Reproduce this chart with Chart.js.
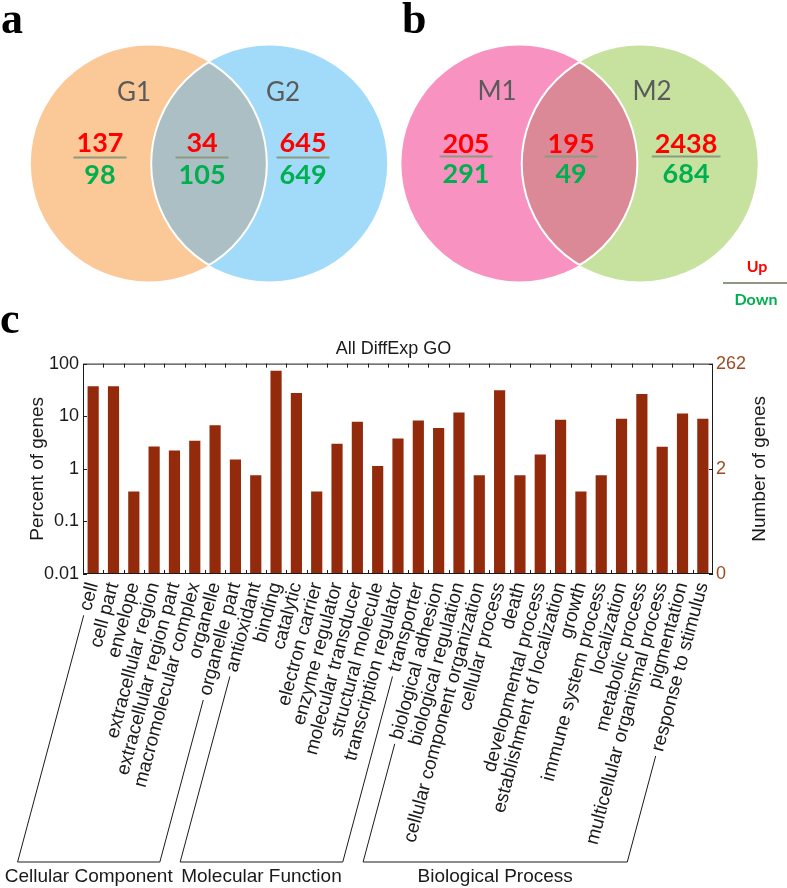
<!DOCTYPE html>
<html>
<head>
<meta charset="utf-8">
<script src="https://cdn.jsdelivr.net/npm/chart.js@4.4.1/dist/chart.umd.min.js"></script>
<style>
  body { margin: 0; background: #fff; width: 787px; height: 888px; position: relative; overflow: hidden; }
  .box { position: absolute; }
</style>
</head>
<body>
<div class="box" style="left:0;top:300px;width:787px;height:588px"><canvas id="goBars"></canvas></div>
<div class="box" style="left:0;top:0;width:393px;height:312px"><canvas id="vennA"></canvas></div>
<div class="box" style="left:393px;top:0;width:394px;height:312px"><canvas id="vennB"></canvas></div>
<script>
// ---- datos ----
const goCategories = [
    'cell', 'cell part', 'envelope', 'extracellular region', 'extracellular region part',
    'macromolecular complex', 'organelle', 'organelle part',
    'antioxidant', 'binding', 'catalytic', 'electron carrier', 'enzyme regulator',
    'molecular transducer', 'structural molecule', 'transcription regulator', 'transporter',
    'biological adhesion', 'biological regulation', 'cellular component organization',
    'cellular process', 'death', 'developmental process', 'establishment of localization',
    'growth', 'immune system process', 'localization', 'metabolic process',
    'multicellular organismal process', 'pigmentation', 'response to stimulus'
];
const goPercent = [
    36.9, 36.9, 0.37, 2.66, 2.23, 3.41, 6.7, 1.51,
    0.75, 72.9, 27.6, 0.37, 2.99, 7.85, 1.13, 3.78, 8.3,
    5.96, 11.8, 0.75, 31.0, 0.75, 1.87, 8.57, 0.37, 0.75, 8.96, 26.4, 2.62, 11.3, 8.96
];
const goGroups = ['Cellular Component', 'Molecular Function', 'Biological Process'];
const goGroupSizes = [8, 9, 14];
const leftTickValues = [0.01, 0.1, 1, 10, 100];
const leftTickLabels = ['0.01', '0.1', '1', '10', '100'];
const rightTickValues = [0.01, 1, 100];
const rightTickLabels = ['0', '2', '262'];

const vennASets = ['G1', 'G2'];
const vennAUp = [137, 34, 645];
const vennADown = [98, 105, 649];
const vennBSets = ['M1', 'M2'];
const vennBUp = [205, 195, 2438];
const vennBDown = [291, 49, 684];

// ---- estilos ----
const colores = {
    barra: '#932a0b',
    eje: '#1a1a1a',
    marron: '#9c4a25',
    rojo: '#ff0000',
    verde: '#00b050',
    raya: '#8d9a80',
    gris: '#5a5a5a'
};
const SANS = "'Liberation Sans', Arial, sans-serif";
const SERIF = "'Liberation Serif', 'Times New Roman', serif";
const CAL = "Lato, 'Open Sans', sans-serif";
Chart.defaults.font.family = SANS;
Chart.defaults.color = colores.eje;

// ---- diagramas de Venn ----
function vennPlugin(cfg) {
    return {
        id: 'venn',
        afterDatasetsDraw(chart) {
            const { ctx, scales: { x, y } } = chart;
            const pts = chart.getDatasetMeta(0).data;
            const r = x.getPixelForValue(1) - x.getPixelForValue(0);
            const a = pts[0], b = pts[1];
            const circ = (p) => { ctx.beginPath(); ctx.arc(p.x, p.y, r, 0, Math.PI * 2); };
            ctx.save();
            ctx.fillStyle = cfg.fills[0]; circ(a); ctx.fill();
            ctx.fillStyle = cfg.fills[1]; circ(b); ctx.fill();
            ctx.save(); circ(a); ctx.clip();
            ctx.fillStyle = cfg.fills[2]; circ(b); ctx.fill();
            ctx.restore();
            ctx.strokeStyle = '#ffffff'; ctx.lineWidth = 2;
            ctx.save(); circ(b); ctx.clip(); circ(a); ctx.stroke(); ctx.restore();
            ctx.save(); circ(a); ctx.clip(); circ(b); ctx.stroke(); ctx.restore();

            ctx.textAlign = 'center';
            ctx.textBaseline = 'middle';
            // nombres de conjuntos
            ctx.fillStyle = colores.gris;
            ctx.font = '26px ' + CAL;
            cfg.sets.forEach((s, i) => {
                ctx.fillText(s, x.getPixelForValue(cfg.setPos[i][0]), y.getPixelForValue(cfg.setPos[i][1]));
            });
            // numeros arriba / abajo
            cfg.up.forEach((u, i) => {
                const cx = x.getPixelForValue(cfg.cols[i]);
                ctx.font = 'bold 27px ' + CAL;
                const w = Math.max(ctx.measureText(String(u)).width, ctx.measureText(String(cfg.down[i])).width) + 6;
                ctx.fillStyle = colores.rojo;
                ctx.fillText(String(u), cx, y.getPixelForValue(cfg.rows[0]));
                ctx.fillStyle = colores.verde;
                ctx.fillText(String(cfg.down[i]), cx, y.getPixelForValue(cfg.rows[2]));
                ctx.strokeStyle = colores.raya; ctx.lineWidth = 2;
                const ly = y.getPixelForValue(cfg.rows[1]);
                ctx.beginPath(); ctx.moveTo(cx - w / 2, ly); ctx.lineTo(cx + w / 2, ly); ctx.stroke();
            });
            // letra del panel
            ctx.fillStyle = '#000';
            ctx.textAlign = 'left';
            ctx.textBaseline = 'alphabetic';
            ctx.font = 'bold 44px ' + SERIF;
            ctx.fillText(cfg.panel, cfg.panelX, 33);
            // leyenda Up / Down
            if (cfg.legend) {
                ctx.textAlign = 'center';
                ctx.textBaseline = 'middle';
                ctx.font = 'bold 16px ' + CAL;
                ctx.fillStyle = colores.rojo;
                ctx.fillText('Up', 364, 267);
                ctx.strokeStyle = colores.raya; ctx.lineWidth = 2;
                ctx.beginPath(); ctx.moveTo(330, 283); ctx.lineTo(394, 283); ctx.stroke();
                ctx.fillStyle = colores.verde;
                ctx.fillText('Down', 363, 300);
            }
            ctx.restore();
        }
    };
}

function makeVenn(id, xmin, xmax, cfg) {
    new Chart(document.getElementById(id), {
        type: 'scatter',
        data: { datasets: [{ data: [{ x: -0.51, y: 0 }, { x: 0.51, y: 0 }], pointRadius: 0 }] },
        options: {
            responsive: true,
            maintainAspectRatio: false,
            animation: false,
            events: [],
            layout: { padding: 0 },
            plugins: { legend: { display: false }, tooltip: { enabled: false } },
            scales: {
                x: { type: 'linear', min: xmin, max: xmax, display: false },
                y: { type: 'linear', min: -1.254, max: 1.381, display: false }
            }
        },
        plugins: [vennPlugin(cfg)]
    });
}

makeVenn('vennA', -1.771, 1.559, {
    fills: ['#fbc898', '#a2dbfa', '#acbfc4'],
    sets: vennASets, setPos: [[-0.636, 0.602], [0.627, 0.602]],
    up: vennAUp, down: vennADown,
    cols: [-0.924, -0.059, 0.797], rows: [0.169, 0.051, -0.102],
    panel: 'a', panelX: 1, legend: false
});
makeVenn('vennB', -1.581, 1.758, {
    fills: ['#f893c1', '#c7e19e', '#dc8997'],
    sets: vennBSets, setPos: [[-0.699, 0.61], [0.614, 0.61]],
    up: vennBUp, down: vennBDown,
    cols: [-0.962, -0.072, 0.903], rows: [0.161, 0.059, -0.093],
    panel: 'b', panelX: 9, legend: true
});

// ---- grafica de barras GO ----
const LABEL_FONT = 19;
const LABEL_PAD = 6;
const ANG = 75 * Math.PI / 180;

const marcoPlugin = {
    id: 'marco',
    afterDraw(chart) {
        const { ctx, chartArea: ca, scales: { x, y, y2 } } = chart;
        ctx.save();
        ctx.strokeStyle = colores.eje;
        ctx.lineWidth = 1;
        ctx.strokeRect(ca.left + 0.5, ca.top + 0.5, ca.right - ca.left - 1, ca.bottom - ca.top - 1);
        ctx.beginPath();
        const step = (ca.right - ca.left) / goCategories.length;
        for (let i = 1; i < goCategories.length; i++) {
            const px = Math.round(ca.left + i * step) + 0.5;
            ctx.moveTo(px, ca.top); ctx.lineTo(px, ca.top + 4);
            ctx.moveTo(px, ca.bottom); ctx.lineTo(px, ca.bottom - 4);
        }
        leftTickValues.forEach(v => {
            const py = Math.round(y.getPixelForValue(v)) + 0.5;
            ctx.moveTo(ca.left, py); ctx.lineTo(ca.left + 4, py);
        });
        rightTickValues.forEach(v => {
            const py = Math.round(y2.getPixelForValue(v)) + 0.5;
            ctx.moveTo(ca.right, py); ctx.lineTo(ca.right - 4, py);
        });
        ctx.stroke();

        // titulo del eje derecho
        ctx.fillStyle = colores.eje;
        ctx.font = '19px ' + SANS;
        ctx.textAlign = 'center';
        ctx.textBaseline = 'middle';
        ctx.translate(760, (ca.top + ca.bottom) / 2);
        ctx.rotate(-Math.PI / 2);
        ctx.fillText('Number of genes', 0, 0);
        ctx.restore();

        // corchetes de grupos
        ctx.save();
        ctx.strokeStyle = colores.eje;
        ctx.lineWidth = 1;
        ctx.font = LABEL_FONT + 'px ' + SANS;
        const baseY = 562;
        const y0 = x.top + LABEL_PAD;
        const pie = (i) => x.getPixelForTick(i) - (baseY - y0) / Math.tan(ANG);
        const pata = (i) => {
            const tx = x.getPixelForTick(i);
            const w = ctx.measureText(goCategories[i]).width + 8;
            ctx.moveTo(tx - w * Math.cos(ANG), y0 + w * Math.sin(ANG));
            ctx.lineTo(pie(i), baseY);
        };
        let start = 0;
        goGroups.forEach((g, gi) => {
            const first = start, last = start + goGroupSizes[gi] - 1;
            start += goGroupSizes[gi];
            ctx.beginPath();
            pata(first);
            ctx.lineTo(pie(last), baseY);
            pata(last);
            ctx.stroke();
            ctx.fillStyle = colores.eje;
            ctx.textAlign = 'center';
            ctx.textBaseline = 'middle';
            ctx.fillText(g, (pie(first) + pie(last)) / 2, 577);
        });
        // letra del panel
        ctx.fillStyle = '#000';
        ctx.textAlign = 'left';
        ctx.textBaseline = 'alphabetic';
        ctx.font = 'bold 44px ' + SERIF;
        ctx.fillText('c', 0, 33);
        ctx.restore();
    }
};

new Chart(document.getElementById('goBars'), {
    type: 'bar',
    data: {
        labels: goCategories,
        datasets: [{
            data: goPercent,
            backgroundColor: colores.barra,
            borderWidth: 0,
            barPercentage: 0.55,
            categoryPercentage: 1,
            yAxisID: 'y'
        }]
    },
    options: {
        responsive: true,
        maintainAspectRatio: false,
        animation: false,
        events: [],
        layout: { padding: { top: 38, left: 0, right: 0, bottom: 0 } },
        plugins: {
            legend: { display: false },
            tooltip: { enabled: false },
            title: {
                display: true,
                text: 'All DiffExp GO',
                color: colores.eje,
                font: { size: 18, weight: 'normal' },
                padding: { top: 0, bottom: 4 }
            }
        },
        scales: {
            x: {
                grid: { display: false, drawTicks: false },
                border: { display: false },
                ticks: {
                    autoSkip: false,
                    maxRotation: 75,
                    minRotation: 75,
                    padding: LABEL_PAD,
                    color: colores.eje,
                    font: { size: LABEL_FONT }
                },
                afterFit(s) { s.height = 314; }
            },
            y: {
                type: 'logarithmic',
                position: 'left',
                min: 0.01,
                max: 100,
                grid: { display: false, drawTicks: false },
                border: { display: false },
                afterBuildTicks(s) { s.ticks = leftTickValues.map(v => ({ value: v })); },
                ticks: {
                    padding: 4,
                    color: colores.eje,
                    font: { size: 18 },
                    callback: (v, i) => leftTickLabels[i]
                },
                title: {
                    display: true,
                    text: 'Percent of genes',
                    color: colores.eje,
                    font: { size: 19 },
                    padding: { top: 26, bottom: 0 }
                },
                afterFit(s) { s.width = 83; }
            },
            y2: {
                type: 'logarithmic',
                position: 'right',
                min: 0.01,
                max: 100,
                grid: { display: false, drawTicks: false },
                border: { display: false },
                afterBuildTicks(s) { s.ticks = rightTickValues.map(v => ({ value: v })); },
                ticks: {
                    padding: 3,
                    color: colores.marron,
                    font: { size: 18 },
                    callback: (v, i) => rightTickLabels[i]
                },
                afterFit(s) { s.width = 74; }
            }
        }
    },
    plugins: [marcoPlugin]
});
</script>
</body>
</html>
